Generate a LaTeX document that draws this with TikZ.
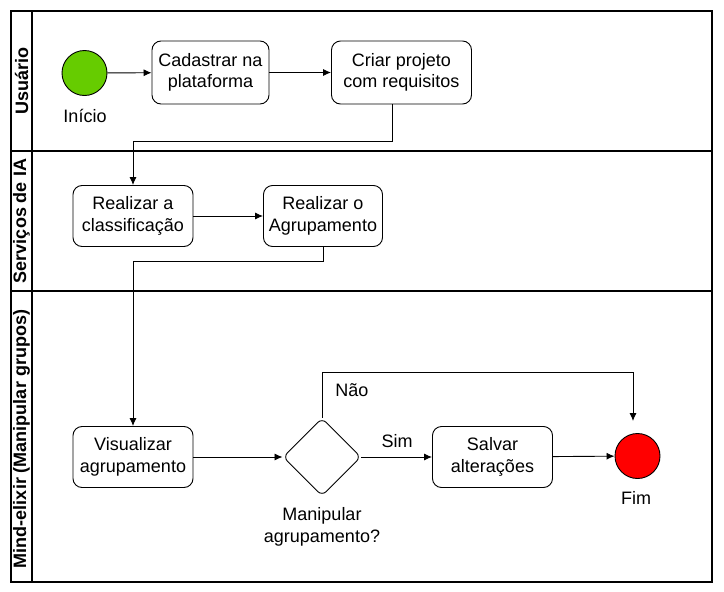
\documentclass[tikz,border=0pt]{standalone}
\usepackage{fontspec}
\setmainfont{Liberation Sans}
\usetikzlibrary{arrows.meta,shapes.geometric}
\begin{document}
\begin{tikzpicture}[x=1pt,y=-1pt,
  texto/.style={font=\fontsize{18}{21.6}\selectfont,align=center,inner sep=0pt},
  tarefa/.style={texto,draw,line width=0.9pt,rounded corners=9pt,minimum width=120pt,minimum height=61pt},
  decisao/.style={draw,line width=0.9pt,diamond,aspect=1,minimum size=78pt,inner sep=0pt,rounded corners=6pt},
  evento/.style={draw,line width=0.9pt,circle,minimum size=45pt,inner sep=0pt},
  raia/.style={font=\bfseries\fontsize{18}{21.6}\selectfont,rotate=90,inner sep=0pt},
  seta/.style={line width=0.9pt,-{Latex[length=8pt,width=7pt]}}]
\useasboundingbox (0,0) rectangle (724,592);

% raias
\draw[line width=1.4pt] (11,11) rectangle (712,582);
\draw[line width=1.4pt] (32,11) -- (32,582);
\draw[line width=1.4pt] (11,151) -- (712,151);
\draw[line width=1.4pt] (11,291) -- (712,291);
\node[raia] (rusuario) at (21.5,81) {Usuário};
\node[raia] (rservicos) at (21.5,221) {Serviços de IA};
\node[raia] (rmind) at (21.5,439) {Mind-elixir (Manipular grupos)};

% eventos e tarefas
\node[evento,fill={rgb,255:red,102;green,204;blue,0}] (inicio) at (84.5,73) {};
\node[texto] (lblinicio) at (85,116) {Início};
\node[tarefa,minimum width=117pt,minimum height=63pt] (cadastrar) at (210.5,72.5) {Cadastrar na\\plataforma};
\node[tarefa,minimum width=140pt,minimum height=63pt] (criar) at (401.5,72.5) {Criar projeto\\com requisitos};
\node[tarefa] (classificar) at (133,216) {Realizar a\\classificação};
\node[tarefa,minimum width=119pt] (agrupar) at (323,216) {Realizar o\\Agrupamento};
\node[tarefa] (visualizar) at (133,457) {Visualizar\\agrupamento};
\node[decisao] (manipular) at (322,457) {};
\node[texto] (lblmanipular) at (322,527) {Manipular\\agrupamento?};
\node[tarefa] (salvar) at (492.5,457) {Salvar\\alterações};
\node[evento,fill={rgb,255:red,255;green,0;blue,0}] (fim) at (637.5,456) {};
\node[texto] (lblfim) at (636,498) {Fim};

% pontos de dobra
\coordinate (d1) at (133,141);
\coordinate (d2) at (133,261);
\coordinate (d3) at (633,372);
\coordinate (d4) at (633,421);

% conectores
\draw[seta] (inicio) -- (cadastrar);
\draw[seta] (cadastrar) -- (criar);
\draw[seta] ([xshift=-9.5pt]criar.south) |- (d1) -- (classificar.north);
\draw[seta] (classificar) -- (agrupar);
\draw[seta] (agrupar.south) |- (d2) -- (visualizar.north);
\draw[seta] (visualizar) -- (manipular);
\draw[seta] (manipular) -- (salvar);
\node[texto] (lblsim) at (397,441) {Sim};
\draw[seta] (manipular.north) |- (d3) -- (d4);
\node[texto] (lblnao) at (352,390) {Não};
\draw[seta] (salvar) -- (fim);

\end{tikzpicture}
\end{document}
